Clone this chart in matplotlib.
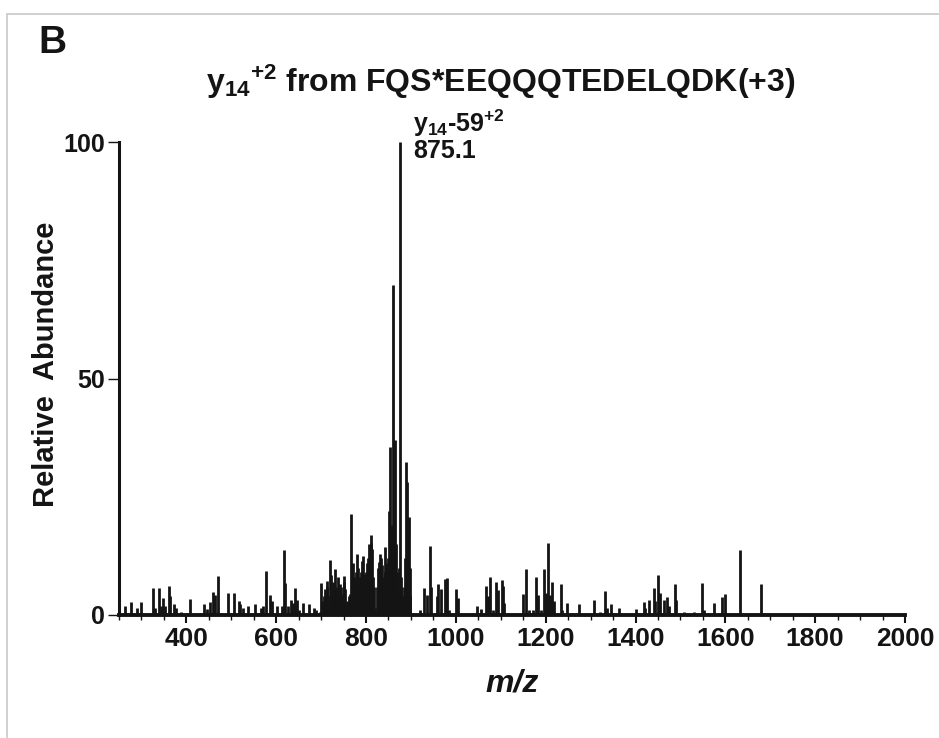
import matplotlib
matplotlib.use("Agg")
import matplotlib.pyplot as plt
from matplotlib.patches import Rectangle
from matplotlib.ticker import MultipleLocator

plt.rcParams['font.family'] = ['Liberation Sans', 'DejaVu Sans']
plt.rcParams['font.weight'] = 'bold'
plt.rcParams['mathtext.fontset'] = 'custom'
plt.rcParams['mathtext.rm'] = 'Liberation Sans:bold'
plt.rcParams['mathtext.it'] = 'Liberation Sans:italic:bold'
plt.rcParams['mathtext.bf'] = 'Liberation Sans:bold'

# MS/MS fragment spectrum: m/z and relative abundance (%)
mz = [264, 277, 289, 298, 326, 330, 338, 344, 348, 353, 361, 364, 372, 377, 387,
      407, 440, 445, 452, 459, 464, 470, 492, 505, 517, 520, 527, 538, 552, 567,
      570, 578, 586, 591, 602, 613, 617, 620, 626, 634, 637, 641, 646, 650, 660,
      674, 684, 688, 697, 700, 704, 707, 709, 712, 714, 716, 719, 723, 726, 727,
      730, 732, 734, 737, 738, 741, 743, 745, 747, 748, 750, 752, 754, 757, 760,
      762, 764, 767, 769, 771, 773, 775, 777, 779, 782, 784, 786, 789, 791, 793,
      795, 798, 800, 802, 804, 806, 808, 810, 812, 813, 816, 818, 821, 824, 827,
      829, 832, 834, 836, 838, 840, 842, 843, 845, 846, 848, 849, 851, 854, 856,
      858, 860.3, 862, 863, 865, 867, 868, 871, 873, 875.1, 877, 878, 881, 883,
      884, 886, 888, 891, 893, 895, 897, 898, 921, 930, 935, 942, 945, 958, 960,
      966, 975, 981, 984, 1001, 1004, 1047, 1055, 1068, 1071, 1077, 1082, 1090,
      1093, 1102, 1104, 1107, 1149, 1157, 1162, 1172, 1179, 1184, 1189, 1197,
      1201, 1205, 1209, 1214, 1218, 1233, 1236, 1248, 1274, 1307, 1322, 1333,
      1336, 1346, 1363, 1401, 1418, 1422, 1431, 1441, 1444, 1450, 1455, 1463,
      1469, 1474, 1487, 1490, 1508, 1531, 1549, 1553, 1575, 1593, 1600, 1632, 1679]
abundance = [1.8, 2.7, 1.5, 2.7, 5.8, 1.4, 5.8, 2.0, 3.5, 1.8, 6.1, 4.0, 2.3, 1.4, 0.7,
             3.3, 2.3, 1.2, 2.7, 4.8, 4.2, 8.2, 4.6, 4.6, 3.0, 2.3, 1.4, 1.9, 2.4, 1.4,
             2.0, 9.2, 4.2, 3.0, 1.9, 2.0, 13.7, 6.8, 2.0, 3.2, 2.6, 5.8, 3.2, 1.0, 2.5,
             2.3, 1.5, 1.0, 0.7, 6.7, 3.0, 4.0, 5.5, 7.2, 6.0, 4.0, 11.6, 8.5, 7.0, 5.0,
             9.7, 5.0, 6.0, 8.0, 3.5, 5.0, 6.5, 6.0, 4.5, 4.0, 8.2, 7.0, 5.5, 3.0, 2.8,
             4.0, 4.5, 21.3, 9.0, 10.9, 8.0, 6.0, 9.0, 13.0, 10.0, 5.6, 8.0, 9.0, 11.5, 12.5,
             8.6, 7.0, 9.0, 11.0, 12.0, 15.0, 13.7, 17.0, 15.2, 14.0, 8.0, 6.0, 1.5, 6.0, 10.0,
             11.3, 13.0, 12.0, 10.5, 8.0, 7.0, 9.0, 14.4, 11.0, 10.5, 12.0, 8.0, 22.0, 35.6, 18.0,
             19.0, 69.8, 20.0, 12.0, 37.0, 15.0, 9.0, 5.0, 10.0, 100.0, 6.0, 8.0, 3.0, 4.0,
             6.0, 12.0, 32.4, 28.2, 16.0, 20.8, 10.0, 4.2, 1.0, 5.8, 4.2, 14.6, 6.0, 4.0, 6.5,
             5.5, 7.6, 7.8, 1.0, 5.5, 3.5, 1.9, 1.3, 6.1, 4.0, 8.1, 1.0, 7.0,
             5.3, 7.5, 6.1, 2.5, 4.4, 9.7, 1.0, 1.0, 8.0, 4.2, 1.0, 9.7,
             4.6, 15.2, 4.2, 7.0, 3.0, 6.5, 1.0, 2.5, 2.3, 3.2, 0.7, 5.1,
             1.5, 2.3, 1.5, 1.3, 2.7, 1.5, 3.2, 5.8, 3.0, 8.5, 4.7, 3.2,
             3.7, 1.9, 6.5, 3.2, 0.6, 0.6, 6.7, 1.0, 2.5, 3.9, 4.4, 13.7, 6.5]

xticks = [400, 600, 800, 1000, 1200, 1400, 1600, 1800, 2000]
yticks = [0, 50, 100]

base_peak_mz = 875.1
base_peak_label = "875.1"

W, H = 939, 738
INK = '#141414'
fig = plt.figure(figsize=(W / 100, H / 100), dpi=100)
fig.patch.set_facecolor('white')

# thin grey frame around the panel
fig.patches.append(Rectangle((7 / W, -0.05), 1.2, 1.05 - 14 / H,
                             transform=fig.transFigure, fill=False,
                             edgecolor='#c8c8c8', lw=1.2))

ax = fig.add_axes([119 / W, (H - 615) / H, (905 - 119) / W, (615 - 142) / H])
ax.vlines(mz, 0, abundance, color=INK, lw=2.0)

ax.set_xlim(250, 2000)
ax.set_ylim(0, 100)
ax.spines['top'].set_visible(False)
ax.spines['right'].set_visible(False)
ax.spines['left'].set_linewidth(2.2)
ax.spines['bottom'].set_linewidth(2.8)
ax.spines['left'].set_color(INK)
ax.spines['bottom'].set_color(INK)

ax.set_xticks(xticks)
ax.set_xticklabels([str(v) for v in xticks])
ax.xaxis.set_minor_locator(MultipleLocator(50))
ax.set_yticks(yticks)
ax.set_yticklabels([str(v) for v in yticks])
ax.tick_params(axis='x', which='major', direction='out', length=6, width=1.5,
               labelsize=19, pad=3, color=INK)
ax.tick_params(axis='x', which='minor', direction='out', length=3.5, width=1.0,
               color=INK)
ax.tick_params(axis='y', which='major', direction='out', length=8, width=1.0,
               labelsize=18, pad=2, color=INK)
for lab in ax.get_xticklabels() + ax.get_yticklabels():
    lab.set_fontweight('bold')
    lab.set_color(INK)

ax.set_xlabel('m/z', fontsize=23, fontstyle='italic', fontweight='bold',
              color=INK, labelpad=12)
ax.set_ylabel('Relative  Abundance', fontsize=21, fontweight='bold', color=INK)
ax.yaxis.set_label_coords((60 - 119) / (905 - 119), (615 - 364) / (615 - 142))

# base peak annotation
ax.text(base_peak_mz + 30, 104.0, r"y$_{14}$-59$^{+2}$", fontsize=18,
        fontweight='bold', color=INK, ha='left', va='center')
ax.text(base_peak_mz + 30, 98.0, base_peak_label, fontsize=18,
        fontweight='bold', color=INK, ha='left', va='center')

fig.text(501 / W, 1 - 82 / H, r"y$_{14}{}^{+2}$ from FQS*EEQQQTEDELQDK(+3)",
         fontsize=23, fontweight='bold', color=INK, ha='center', va='center')
fig.text(38 / W, 1 - 43 / H, "B", fontsize=28, fontweight='bold',
         color=INK, ha='left', va='center')

fig.savefig('out.png', dpi=100)
